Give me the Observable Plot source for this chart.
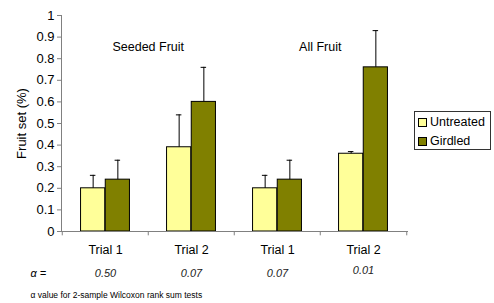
<!DOCTYPE html>
<html>
<head>
<meta charset="utf-8">
<script src="https://cdn.jsdelivr.net/npm/d3@7"></script>
<script src="https://cdn.jsdelivr.net/npm/@observablehq/plot@0.6"></script>
<style>
  html, body { margin: 0; padding: 0; background: #fff; }
  #wrap { position: relative; width: 494px; height: 303px; font-family: "Liberation Sans", Arial, sans-serif; }
  #legend { position: absolute; left: 414px; top: 111px; width: 77px; height: 39px; border: 1px solid #333; box-sizing: border-box; background: #fff; font-size: 12.5px; }
  .li { position: absolute; left: 3px; display: flex; align-items: center; }
  .sw { width: 7px; height: 7px; border: 1px solid #000; margin-right: 3px; }
</style>
</head>
<body>
<div id="wrap">
  <div id="chart"></div>
  <div id="legend">
    <div class="li" style="top:3px"><div class="sw" style="background:#FFFF99"></div>Untreated</div>
    <div class="li" style="top:22px"><div class="sw" style="background:#808000"></div>Girdled</div>
  </div>
</div>
<script>
const groups = ["Seeded T1", "Seeded T2", "All T1", "All T2"];
const trialLabels = ["Trial 1", "Trial 2", "Trial 1", "Trial 2"];
const alphaLabels = ["0.50", "0.07", "0.07", "0.01"];
const sectionLabels = ["Seeded Fruit", "All Fruit"];
const sectionAt = ["Seeded T2", "All T2"];
const untreated = [0.20, 0.39, 0.20, 0.36];
const untreatedErr = [0.06, 0.15, 0.06, 0.01];
const girdled = [0.24, 0.60, 0.24, 0.76];
const girdledErr = [0.09, 0.16, 0.09, 0.17];
const yTicks = [0, 0.1, 0.2, 0.3, 0.4, 0.5, 0.6, 0.7, 0.8, 0.9, 1];

const colors = {Untreated: "#FFFF99", Girdled: "#808000"};
const rows = [];
groups.forEach((g, i) => {
  rows.push({group: g, series: "Untreated", value: untreated[i], err: untreatedErr[i]});
  rows.push({group: g, series: "Girdled", value: girdled[i], err: girdledErr[i]});
});
const U = rows.filter(d => d.series === "Untreated");
const G = rows.filter(d => d.series === "Girdled");

const W = 494, H = 303, ML = 61, MR = 87, MT = 15, MB = 72;
const band = (W - ML - MR) / groups.length;   // ~86.5
const barW = 24.7;
const pad = band / 2 - barW;                   // outer gap
const trialOf = Object.fromEntries(groups.map((g, i) => [g, trialLabels[i]]));
const alphaOf = Object.fromEntries(groups.map((g, i) => [g, alphaLabels[i]]));
const alphaRows = groups.map((g, i) => ({group: g, text: alphaLabels[i], lift: g === "All T2" ? -3 : 0}));
const font = "Liberation Sans, Arial, sans-serif";

const chart = Plot.plot({
  width: W, height: H,
  marginLeft: ML, marginRight: MR, marginTop: MT, marginBottom: MB,
  style: {fontFamily: font, fontSize: "12px", color: "#000", background: "#fff"},
  x: {domain: groups, padding: 0, axis: null},
  y: {domain: [0, 1], axis: null},
  marks: [
    Plot.barY(U, {x: "group", y: "value", fill: colors.Untreated, stroke: "#000", strokeWidth: 1, insetLeft: pad, insetRight: band / 2}),
    Plot.barY(G, {x: "group", y: "value", fill: colors.Girdled, stroke: "#000", strokeWidth: 1, insetLeft: band / 2, insetRight: pad}),
    Plot.ruleX(U, {x: "group", y1: "value", y2: d => d.value + d.err, dx: -barW / 2, stroke: "#000"}),
    Plot.ruleX(G, {x: "group", y1: "value", y2: d => d.value + d.err, dx: barW / 2, stroke: "#000"}),
    Plot.tickY(U, {x: "group", y: d => d.value + d.err, dx: -barW / 2, insetLeft: band / 2 - 3, insetRight: band / 2 - 3, stroke: "#000"}),
    Plot.tickY(G, {x: "group", y: d => d.value + d.err, dx: barW / 2, insetLeft: band / 2 - 3, insetRight: band / 2 - 3, stroke: "#000"}),
    // axis lines
    Plot.frame({anchor: "left", stroke: "#808080"}),
    Plot.frame({anchor: "bottom", stroke: "#808080"}),
    // y axis
    Plot.axisY({ticks: yTicks, tickSize: 4, tickPadding: 3, stroke: "#808080", fontSize: 13, tickFormat: d => String(+d.toFixed(1)),
      label: "Fruit set (%)", labelAnchor: "center", labelArrow: "none", labelOffset: 45}),
    // x category boundary ticks
    Plot.ruleX(groups, {x: d => d, dx: -band / 2, y1: 0, y2: -0.02, stroke: "#808080"}),
    Plot.ruleX(groups.slice(-1), {x: d => d, dx: band / 2, y1: 0, y2: -0.02, stroke: "#808080"}),
    // x labels
    Plot.axisX({tickSize: 0, tickPadding: 14, tickFormat: d => trialOf[d], fontSize: 12.5, label: null}),
    // alpha values
    Plot.text(alphaRows.filter(d => d.lift === 0), {x: "group", frameAnchor: "bottom", dy: 45, text: "text", fontStyle: "italic", fontSize: 11, fill: "#222"}),
    Plot.text(alphaRows.filter(d => d.lift !== 0), {x: "group", frameAnchor: "bottom", dy: 42, text: "text", fontStyle: "italic", fontSize: 11, fill: "#222"}),
    // section labels
    Plot.text(sectionLabels, {x: (d, i) => sectionAt[i], y: 0.855, dx: -band / 2, text: d => d, fontSize: 12.5}),
    // alpha row label & footnote
    Plot.text(["\u03b1 ="], {frameAnchor: "bottom-left", dx: -31, dy: 45, textAnchor: "start", fontStyle: "italic", fontSize: 11, text: d => d}),
    Plot.text(["\u03b1 value for 2-sample Wilcoxon rank sum tests"], {frameAnchor: "bottom-left", dx: -31, dy: 66, textAnchor: "start", fontSize: 8.5, text: d => d})
  ]
});
document.getElementById("chart").appendChild(chart);
</script>
</body>
</html>
